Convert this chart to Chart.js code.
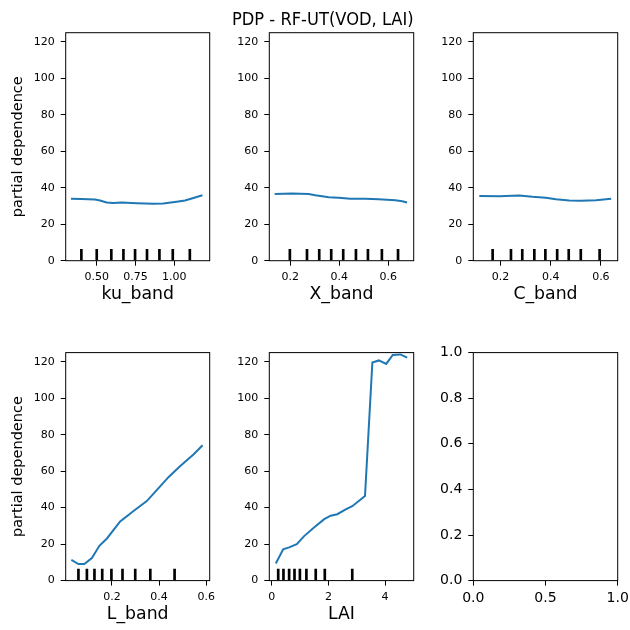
<!DOCTYPE html>
<html>
<head>
<meta charset="utf-8">
<title>PDP - RF-UT(VOD, LAI)</title>
<script src="https://cdn.jsdelivr.net/npm/chart.js@4.4.0/dist/chart.umd.min.js"></script>
<style>
  html, body { margin: 0; padding: 0; background: #fff; }
  #wrap { position: relative; width: 630px; height: 630px; overflow: hidden; }
  #wrap canvas { position: absolute; left: 0; top: 0; }
</style>
</head>
<body>
<div id="wrap">
  <canvas id="p1" width="700" height="700"></canvas>
  <canvas id="p2" width="700" height="700"></canvas>
  <canvas id="p3" width="700" height="700"></canvas>
  <canvas id="p4" width="700" height="700"></canvas>
  <canvas id="p5" width="700" height="700"></canvas>
  <canvas id="p6" width="700" height="700"></canvas>
</div>
<script>
// ========== Data ==========

const suptitle = 'PDP - RF-UT(VOD, LAI)';
const yLabel = 'partial dependence';
const featureNames = ['ku_band', 'X_band', 'C_band', 'L_band', 'LAI'];

const kuX = [0.334, 0.40, 0.489, 0.521, 0.564, 0.607, 0.661, 0.758, 0.865, 0.929, 1.015, 1.069, 1.123, 1.181];
const kuY = [33.9, 33.8, 33.5, 33.0, 31.9, 31.7, 31.9, 31.5, 31.2, 31.3, 32.3, 33.0, 34.4, 35.9];
const kuDeciles = [0.401, 0.5, 0.594, 0.672, 0.747, 0.824, 0.904, 0.990, 1.100];

const xbX = [0.136, 0.207, 0.275, 0.302, 0.357, 0.398, 0.445, 0.507, 0.561, 0.629, 0.657, 0.677];
const xbY = [36.5, 36.8, 36.6, 35.9, 34.8, 34.5, 33.9, 33.9, 33.7, 33.2, 32.6, 31.9];
const xbDeciles = [0.198, 0.268, 0.318, 0.367, 0.416, 0.468, 0.517, 0.574, 0.640];

const cbX = [0.116, 0.195, 0.275, 0.328, 0.381, 0.421, 0.474, 0.521, 0.581, 0.641];
const cbY = [35.5, 35.4, 35.7, 35.0, 34.5, 33.7, 33.0, 32.8, 33.2, 33.9];
const cbDeciles = [0.169, 0.242, 0.287, 0.335, 0.379, 0.426, 0.472, 0.520, 0.595];

const lbX = [0.028, 0.058, 0.083, 0.115, 0.147, 0.179, 0.235, 0.292, 0.348, 0.397, 0.440, 0.489, 0.546, 0.585];
const lbY = [11.3, 9.1, 9.1, 12.4, 19.1, 23.1, 32.4, 38.2, 43.6, 50.6, 56.7, 62.7, 69.1, 74.2];
const lbDeciles = [0.058, 0.094, 0.126, 0.159, 0.198, 0.245, 0.299, 0.363, 0.466];

const laiX = [0.14, 0.40, 0.61, 0.88, 1.14, 1.49, 1.85, 2.08, 2.31, 2.61, 2.84, 3.29, 3.55, 3.78, 4.04, 4.27, 4.54, 4.78];
const laiY = [9.4, 17.1, 18.2, 20.0, 24.4, 29.1, 33.7, 35.6, 36.4, 39.1, 40.8, 46.4, 119.6, 120.7, 118.8, 123.7, 124.0, 122.2];
const laiDeciles = [0.225, 0.41, 0.61, 0.80, 0.99, 1.22, 1.55, 1.87, 2.84];

// tick values
const pdTicks = [0, 20, 40, 60, 80, 100, 120];
const kuTicks = [0.5, 0.75, 1.0];
const bandTicks = [0.2, 0.4, 0.6];
const laiTicks = [0, 2, 4];
const emptyXTicks = [0, 0.5, 1.0];
const emptyYTicks = [0, 0.2, 0.4, 0.6, 0.8, 1.0];

const Y_MAX = 125;
const RUG_H = Y_MAX * 0.05;   // deciles rug = 5% of axis height

// ========== Layout ==========

Chart.defaults.font.family = "'DejaVu Sans', sans-serif";
Chart.defaults.color = '#000';
Chart.defaults.animation = false;

const SIZE = 700;
const COL_L = [65.7, 269.3, 473.3];
const COL_R = [209.7, 413.7, 617.7];
const ROW_T = [32.7, 352.6];
const ROW_B = [260.7, 580.6];
const Y_AXIS_W = 56;
const X_AXIS_H = 44.3;
const TITLE_SIZE = 17.5;
const TITLE_PAD = 1.5;

// matplotlib-style box around the axes
const framePlugin = {
    id: 'frame',
    afterDraw(chart) {
        const { ctx, chartArea: a } = chart;
        ctx.save();
        ctx.strokeStyle = '#000';
        ctx.lineWidth = 1;
        ctx.strokeRect(a.left, a.top, a.right - a.left, a.bottom - a.top);
        ctx.restore();
    }
};

function makePanel(id, p) {
    const W = p.yAxisW || Y_AXIS_W;
    const L = COL_L[p.col], R = COL_R[p.col], T = ROW_T[p.row], B = ROW_B[p.row];
    const tickSize = p.tickSize || 11;
    const titleH = p.title ? TITLE_SIZE * 1.2 + TITLE_PAD : 0;

    const datasets = [];
    if (p.x) {
        datasets.push({
            type: 'line',
            data: p.x.map((x, i) => ({ x, y: p.y[i] })),
            borderColor: '#1f77b4',
            borderWidth: 2,
            pointRadius: 0,
            tension: 0,
            fill: false
        });
    }
    if (p.deciles) {
        datasets.push({
            type: 'bar',
            data: p.deciles.map(d => ({ x: d, y: RUG_H })),
            backgroundColor: '#000',
            barThickness: 2,
            borderWidth: 0
        });
    }

    const tickGrid = {
        display: true, drawOnChartArea: false, drawTicks: true,
        tickLength: 5, tickColor: '#000', tickWidth: 1, offset: false
    };

    return new Chart(document.getElementById(id), {
        type: 'line',
        data: { datasets },
        plugins: [framePlugin],
        options: {
            responsive: false,
            layout: {
                padding: { left: L - W, right: SIZE - R, top: T - titleH, bottom: SIZE - B - X_AXIS_H }
            },
            plugins: {
                legend: { display: false },
                tooltip: { enabled: false },
                title: {
                    display: !!p.title,
                    text: p.title || '',
                    font: { size: TITLE_SIZE, weight: 'normal' },
                    color: '#000',
                    padding: { top: 0, bottom: TITLE_PAD }
                }
            },
            scales: {
                x: {
                    type: 'linear',
                    min: p.xMin, max: p.xMax,
                    offset: false,
                    grid: tickGrid,
                    border: { display: false },
                    ticks: {
                        font: { size: tickSize }, padding: 4.5,
                        maxRotation: 0, autoSkip: false,
                        callback: v => v.toFixed(p.xDec)
                    },
                    title: { display: !!p.xLabel, text: p.xLabel || '', font: { size: 17.3 }, padding: 0 },
                    afterBuildTicks: s => { s.ticks = p.xTicks.map(v => ({ value: v })); },
                    afterFit: s => { s.height = X_AXIS_H; }
                },
                y: {
                    type: 'linear',
                    min: p.yMin, max: p.yMax,
                    grid: tickGrid,
                    border: { display: false },
                    ticks: {
                        font: { size: tickSize }, padding: 6,
                        autoSkip: false,
                        callback: v => v.toFixed(p.yDec)
                    },
                    title: { display: !!p.yLabel, text: p.yLabel || '', font: { size: 14.5 }, padding: 0 },
                    afterBuildTicks: s => { s.ticks = p.yTicks.map(v => ({ value: v })); },
                    afterFit: s => { s.width = W; }
                }
            }
        }
    });
}

// ========== Panels ==========

const pdAxis = { yMin: 0, yMax: Y_MAX, yTicks: pdTicks, yDec: 0 };

makePanel('p1', { ...pdAxis, row: 0, col: 0, x: kuX, y: kuY, deciles: kuDeciles,
    xMin: 0.300, xMax: 1.228, xTicks: kuTicks, xDec: 2, xLabel: featureNames[0], yLabel });

// panel 2 carries the figure title; its y-axis width shifts the title centre
makePanel('p2', { ...pdAxis, row: 0, col: 1, x: xbX, y: xbY, deciles: xbDeciles,
    xMin: 0.114, xMax: 0.704, xTicks: bandTicks, xDec: 1, xLabel: featureNames[1],
    title: suptitle, yAxisW: 37.4 });

makePanel('p3', { ...pdAxis, row: 0, col: 2, x: cbX, y: cbY, deciles: cbDeciles,
    xMin: 0.092, xMax: 0.667, xTicks: bandTicks, xDec: 1, xLabel: featureNames[2] });

makePanel('p4', { ...pdAxis, row: 1, col: 0, x: lbX, y: lbY, deciles: lbDeciles,
    xMin: 0.004, xMax: 0.615, xTicks: bandTicks, xDec: 1, xLabel: featureNames[3], yLabel });

makePanel('p5', { ...pdAxis, row: 1, col: 1, x: laiX, y: laiY, deciles: laiDeciles,
    xMin: -0.09, xMax: 5.01, xTicks: laiTicks, xDec: 0, xLabel: featureNames[4] });

// unused sixth axes
makePanel('p6', { row: 1, col: 2, tickSize: 14,
    xMin: 0, xMax: 1, xTicks: emptyXTicks, xDec: 1,
    yMin: 0, yMax: 1, yTicks: emptyYTicks, yDec: 1 });
</script>
</body>
</html>
